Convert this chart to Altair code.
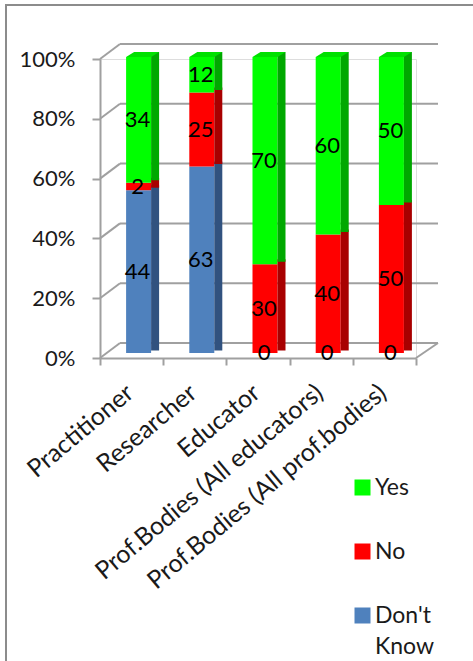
import altair as alt
import pandas as pd

# ---- data ----
categories = ["Practitioner", "Researcher", "Educator",
              "Prof.Bodies (All educators)", "Prof.Bodies (All prof.bodies)"]
series = ["Don't Know", "No", "Yes"]          # stacking order, bottom -> top
dont_know = [44, 63, 0, 0, 0]
no = [2, 25, 30, 40, 50]
yes = [34, 12, 70, 60, 50]
y_ticks = [0, 0.2, 0.4, 0.6, 0.8, 1.0]

legend_order = ["Yes", "No", "Don't Know"]
front_colors = ["#00FF00", "#FF0000", "#4F81BD"]
side_colors = ["#00A800", "#A80000", "#31527F"]
top_color = "#00E000"

rows = []
for i, c in enumerate(categories):
    for k, (s, vals) in enumerate(zip(series, [dont_know, no, yes])):
        rows.append({"cat": c, "series": s, "value": vals[i], "order": k})
df = pd.DataFrame(rows)
ticks_df = pd.DataFrame({"t": y_ticks})
one_df = pd.DataFrame({"k": [0]})

FONT = "Lato"
GRID = "#A0A0A0"
TXT = "#1a1a1a"

x_axis = alt.Axis(title=None, labelAngle=-40, labelAlign="right",
                  labelBaseline="middle", labelFont=FONT, labelFontSize=25,
                  labelColor=TXT, labelPadding=24, labelOffset=-2, labelLimit=400,
                  tickBand="extent", tickSize=7, tickColor=GRID, tickWidth=2,
                  domainColor=GRID, domainWidth=2)
x_enc = alt.X("cat:N", sort=categories,
              scale=alt.Scale(paddingInner=0, paddingOuter=0), axis=x_axis)
bar_scale = alt.Scale(domain=[0, 1], range=[294, -2])
wall_scale = alt.Scale(domain=[0, 1])

stacked = alt.Chart(df).transform_stack(
    stack="value", groupby=["cat"],
    sort=[alt.SortField("order", "ascending")],
    as_=["y0", "y1"], offset="normalize",
).transform_calculate(mid="(datum.y0 + datum.y1) / 2")

# back wall gridlines
grid = alt.Chart(ticks_df).mark_rule(color=GRID, strokeWidth=2, yOffset=-15).encode(
    x=alt.value(20), x2=alt.value(338),
    y=alt.Y("t:Q", scale=wall_scale,
            axis=alt.Axis(values=y_ticks, format=".0%", title=None, grid=False,
                          labelFont=FONT, labelFontSize=22, labelColor=TXT,
                          labelPadding=17, tickSize=8, tickColor=GRID, tickWidth=2,
                          domainColor=GRID, domainWidth=2)),
)
# left wall diagonals
wall = alt.Chart(ticks_df).mark_rule(color=GRID, strokeWidth=2, y2Offset=-15).encode(
    x=alt.value(0), x2=alt.value(20),
    y=alt.Y("t:Q", scale=wall_scale, axis=None), y2="t:Q",
)
# floor right edge
floor = alt.Chart(ticks_df).transform_filter("datum.t == 0").mark_rule(
    color=GRID, strokeWidth=2, y2Offset=-15).encode(
    x=alt.value(316), x2=alt.value(338),
    y=alt.Y("t:Q", scale=wall_scale, axis=None), y2="t:Q",
)

front = stacked.mark_bar(width=25, xOffset=7).encode(
    x=x_enc,
    y=alt.Y("y1:Q", scale=bar_scale, axis=None),
    y2="y0:Q",
    color=alt.Color("series:N",
                    scale=alt.Scale(domain=legend_order, range=front_colors),
                    legend=alt.Legend(orient="none", legendX=251, legendY=417,
                                      direction="vertical", title=None,
                                      symbolType="square", symbolSize=256,
                                      symbolStrokeWidth=0, labelFont=FONT,
                                      labelFontSize=23, labelColor=TXT,
                                      labelOffset=1, rowPadding=40, padding=0,
                                      labelLimit=200,
                                      labelExpr="datum.value == 'Yes' || datum.value == 'No' ? datum.label : split(datum.label, ' ')")),
)

side = stacked.transform_filter("datum.value > 0").mark_bar(
    width=8, xOffset=23.5, yOffset=-5, y2Offset=-2.5).encode(
    x=x_enc,
    y=alt.Y("y1:Q", scale=bar_scale, axis=None),
    y2="y0:Q",
    color=alt.Color("series:N",
                    scale=alt.Scale(domain=legend_order, range=side_colors),
                    legend=None),
)

TOP_PATH = "M-1,0.1515L0.5152,0.1515L1,-0.1515L-0.5152,-0.1515Z"
top = stacked.transform_filter("datum.series == 'Yes'").mark_point(
    shape=TOP_PATH, size=1089, filled=True, opacity=1, color=top_color,
    strokeWidth=0, xOffset=11, yOffset=-2.5).encode(
    x=x_enc,
    y=alt.Y("y1:Q", scale=bar_scale, axis=None),
)

labels = stacked.mark_text(font=FONT, fontSize=22, color="black",
                           xOffset=6, baseline="middle").encode(
    x=x_enc,
    y=alt.Y("mid:Q", scale=bar_scale, axis=None),
    text="value:Q",
)

frame_left = alt.Chart(one_df).mark_rule(color="#8C8C8C", strokeWidth=2).encode(
    x=alt.value(-94), y=alt.value(-54), y2=alt.value(610))
frame_top = alt.Chart(one_df).mark_rule(color="#8C8C8C", strokeWidth=2).encode(
    x=alt.value(-95), x2=alt.value(380), y=alt.value(-54))

chart = alt.layer(
    grid, wall, floor, front, side, top, labels, frame_left, frame_top
).resolve_scale(
    y="independent", color="independent"
).properties(
    width=316, height=299,
    autosize=alt.AutoSizeParams(type="none"),
    padding={"left": 100, "top": 59, "right": 57, "bottom": 303},
    background="white",
).configure_view(stroke=None).configure(
    style={"guide-label": {"lineHeight": 31}}
)

chart.save("out.html", embed_options={"renderer": "svg", "actions": False})
